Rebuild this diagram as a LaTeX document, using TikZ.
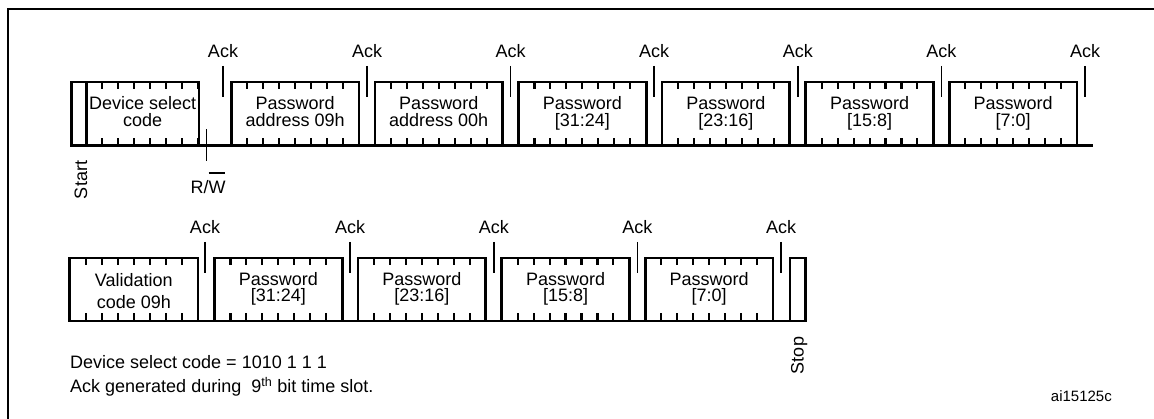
\documentclass[tikz,border=0pt]{standalone}
\usepackage{fontspec}
\setmainfont{Liberation Sans}
\newcommand{\topstrut}{\rule{0pt}{14pt}}
\newcommand{\botstrut}{\rule[-4pt]{0pt}{4pt}}
\newcommand{\myovl}[1]{\setbox0\hbox{#1}\rlap{\rule[20.3pt]{\wd0}{1.3pt}}\box0}
\tikzset{
  boxline/.style={line width=2.7pt, line join=miter},
  tickline/.style={line width=2.1pt},
  markline/.style={line width=1.5pt},
  frameline/.style={line width=2pt},
  lbl/.style={inner sep=0pt, align=center, font=\fontsize{18}{16.5}\selectfont},
  wlbl/.style={inner sep=0pt, align=center, font=\fontsize{18}{22}\selectfont},
  txt/.style={inner sep=0pt, font=\fontsize{18}{22}\selectfont},
  smalltxt/.style={inner sep=0pt, font=\fontsize{15}{18}\selectfont},
}
\begin{document}
\begin{tikzpicture}[x=1pt,y=-1pt]
\useasboundingbox (0,0) rectangle (1154,419);
% frame (cropped)
\coordinate (fbl) at (8,425);
\coordinate (ftl) at (8,9);
\coordinate (ftr) at (1160,9);
\draw[frameline] (fbl) -- (ftl) -- (ftr);

% ---------------- Row 1 ----------------
\def\ya{82}\def\yb{145.7}
\draw[boxline] (86.3,\yb) -- (86.3,\ya);
\draw[boxline] (199,\yb) -- (199,\ya) -- (71.3,\ya) -- (71.3,\yb) -- (1093,\yb);
\foreach \j in {1,...,7}{
  \draw[tickline] ({86.3+16*\j},\ya) -- ++(0,7.5);
  \draw[tickline] ({86.3+16*\j},\yb) -- ++(0,-7.5);
}
\foreach \L in {231.3,374.9,518.5,662.1,805.7,949.3}{
  \draw[boxline] (\L,\yb) -- (\L,\ya) -- ({\L+127.7},\ya) -- ({\L+127.7},\yb);
  \foreach \j in {1,...,7}{
    \draw[tickline] ({\L+15.96*\j},\ya) -- ++(0,7.5);
    \draw[tickline] ({\L+15.96*\j},\yb) -- ++(0,-7.5);
  }
}
% R/W marker
\draw[markline] (206.5,129.3) -- (206.5,160.7);
% Ack markers row 1
\foreach \x [count=\i] in {223,367,510.6,654.2,797.8,941.4,1085}{
  \draw[markline] (\x,66) -- (\x,97);
  \node[txt, anchor=base] (acka\i) at (\x,58) {Ack};
}
\node[lbl] (dev) at (142.65,113.25) {\topstrut Device select\\code\botstrut};
\node[lbl] (pa1) at (295.15,113.25) {\topstrut Password\\address 09h\botstrut};
\node[lbl] (pa2) at (438.75,113.25) {\topstrut Password\\address 00h\botstrut};
\node[lbl] (pa3) at (582.35,113.25) {\topstrut Password\\{[31:24]}\botstrut};
\node[lbl] (pa4) at (725.95,113.25) {\topstrut Password\\{[23:16]}\botstrut};
\node[lbl] (pa5) at (869.55,113.25) {\topstrut Password\\{[15:8]}\botstrut};
\node[lbl] (pa6) at (1013.15,113.25) {\topstrut Password\\{[7:0]}\botstrut};
\node[txt, anchor=base, rotate=90] (start) at (87,180) {Start};
\node[txt, anchor=base] (rw) at (208,194) {R/\myovl{W}};

% ---------------- Row 2 ----------------
\def\yc{258}\def\yd{321}
\draw[boxline] (198,\yd) -- (198,\yc) -- (69.7,\yc) -- (69.7,\yd) -- (805.5,\yd) -- (805.5,\yc) -- (790,\yc) -- (790,\yd);
\foreach \j in {1,...,7}{
  \draw[tickline] ({69.7+16*\j},\yc) -- ++(0,7.5);
  \draw[tickline] ({69.7+16*\j},\yd) -- ++(0,-7.5);
}
\foreach \L in {214.5,358.1,501.7,645.3}{
  \draw[boxline] (\L,\yd) -- (\L,\yc) -- ({\L+127.7},\yc) -- ({\L+127.7},\yd);
  \foreach \j in {1,...,7}{
    \draw[tickline] ({\L+15.96*\j},\yc) -- ++(0,7.5);
    \draw[tickline] ({\L+15.96*\j},\yd) -- ++(0,-7.5);
  }
}
\foreach \x [count=\i] in {205,350.2,493.8,637.4,781}{
  \draw[markline] (\x,242) -- (\x,273);
  \node[txt, anchor=base] (ackb\i) at (\x,234) {Ack};
}
\node[wlbl] (val) at (133.85,293) {\topstrut Validation\\code 09h\botstrut};
\node[lbl] (pb1) at (278.35,288.75) {\topstrut Password\\{[31:24]}\botstrut};
\node[lbl] (pb2) at (421.95,288.75) {\topstrut Password\\{[23:16]}\botstrut};
\node[lbl] (pb3) at (565.55,288.75) {\topstrut Password\\{[15:8]}\botstrut};
\node[lbl] (pb4) at (709.15,288.75) {\topstrut Password\\{[7:0]}\botstrut};
\node[txt, anchor=base, rotate=90] (stop) at (803.7,355.5) {Stop};

% ---------------- Notes ----------------
\node[txt, anchor=base west] (note1) at (70,369) {Device select code = 1010 1 1 1};
\node[txt, anchor=base west] (note2) at (70,393) {Ack generated during\hspace{10pt}9\textsuperscript{th} bit time slot.};
\node[smalltxt, anchor=base west] (ref) at (1050.7,402) {ai15125c};
\end{tikzpicture}
\end{document}
